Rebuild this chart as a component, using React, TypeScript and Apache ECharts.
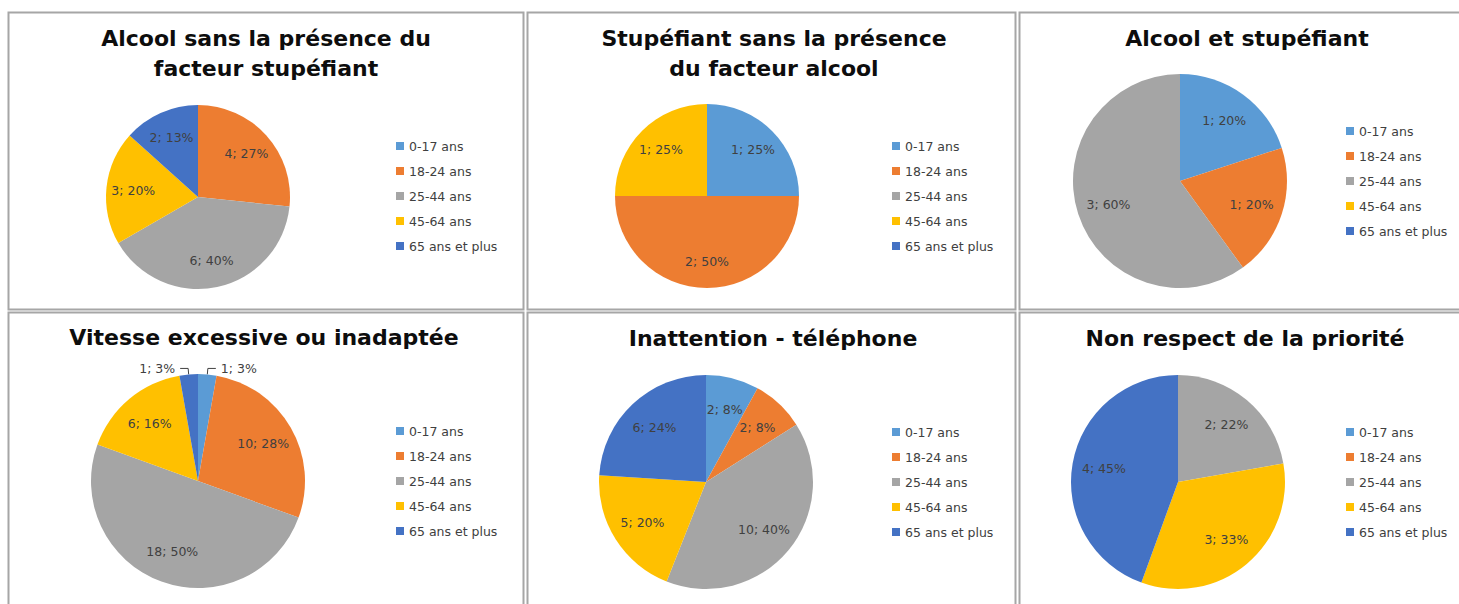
import React, { useEffect, useRef } from "react";
import * as echarts from "echarts";

const categories = ["0-17 ans", "18-24 ans", "25-44 ans", "45-64 ans", "65 ans et plus"];
const palette = ["#5B9BD5", "#ED7D31", "#A5A5A5", "#FFC000", "#4472C4"];

const titleAlcool = "Alcool sans la présence du\nfacteur stupéfiant";
const titleStup = "Stupéfiant sans la présence\ndu facteur alcool";
const titleAlcoolStup = "Alcool et stupéfiant";
const titleVitesse = "Vitesse excessive ou inadaptée";
const titleInattention = "Inattention - téléphone";
const titlePriorite = "Non respect de la priorité";

const alcoolSansStup = [0, 4, 6, 3, 2];
const stupSansAlcool = [1, 2, 0, 1, 0];
const alcoolEtStup = [1, 1, 3, 0, 0];
const vitesse = [1, 10, 18, 6, 1];
const inattention = [2, 2, 10, 5, 6];
const priorite = [0, 0, 2, 3, 4];

const panels = [
  { title: titleAlcool, values: alcoolSansStup, cx: 198, cy: 197, r: 92, tx: 266, ty: 23, lx: 396, ly: 139.5 },
  { title: titleStup, values: stupSansAlcool, cx: 707, cy: 196, r: 92, tx: 774, ty: 23, lx: 892, ly: 139.5 },
  { title: titleAlcoolStup, values: alcoolEtStup, cx: 1180, cy: 181, r: 107, tx: 1247, ty: 23, lx: 1346, ly: 124.5 },
  { title: titleVitesse, values: vitesse, cx: 198, cy: 481, r: 107, tx: 264, ty: 322, lx: 396, ly: 424.5 },
  { title: titleInattention, values: inattention, cx: 706, cy: 482, r: 107, tx: 773, ty: 323, lx: 892, ly: 425.5 },
  { title: titlePriorite, values: priorite, cx: 1178, cy: 482, r: 107, tx: 1245, ty: 323, lx: 1346, ly: 425.5 },
];

const borderBoxes = [
  [8, 12, 515, 297],
  [527, 12, 488, 297],
  [1019, 12, 460, 297],
  [8, 312, 515, 310],
  [527, 312, 488, 310],
  [1019, 312, 460, 310],
];

const TITLE_FONT = "'DejaVu Sans', Verdana, sans-serif";
const FONT = "'DejaVu Sans', Verdana, sans-serif";
const LABEL_COLOR = "#404040";
const LABEL_SIZE = 12.5;

export default function App() {
  const ref = useRef<HTMLDivElement>(null);
  useEffect(() => {
    if (!ref.current) return;
    const chart = echarts.init(ref.current, null, { renderer: "svg" });

    const mainSeries: any[] = [];
    const labelSeries: any[] = [];
    panels.forEach((p, pi) => {
      const total = p.values.reduce((a, b) => a + b, 0);
      mainSeries.push({
        type: "pie",
        name: "main" + pi,
        center: [p.cx, p.cy],
        radius: [0, p.r],
        startAngle: 90,
        clockwise: true,
        percentPrecision: 0,
        avoidLabelOverlap: true,
        emphasis: { disabled: true },
        itemStyle: { borderWidth: 0 },
        data: categories.map((c, i) => {
          const v = p.values[i];
          const small = v > 0 && v / total < 0.05;
          return {
            name: c,
            value: v,
            label: small
              ? { show: true, position: "outside", formatter: "{c}; {d}%", color: LABEL_COLOR, fontSize: LABEL_SIZE, fontFamily: FONT }
              : { show: false },
            labelLine: small
              ? { show: true, length: 6, length2: 8, lineStyle: { color: "#404040", width: 1 } }
              : { show: false },
          };
        }),
      });
      labelSeries.push({
        type: "pie",
        name: "labels" + pi,
        center: [p.cx, p.cy],
        radius: [p.r * 0.5, p.r * 0.85],
        startAngle: 90,
        clockwise: true,
        percentPrecision: 0,
        silent: true,
        avoidLabelOverlap: false,
        emphasis: { disabled: true },
        itemStyle: { color: "rgba(0,0,0,0)", borderWidth: 0 },
        labelLine: { show: false },
        data: categories.map((c, i) => {
          const v = p.values[i];
          const show = v > 0 && v / total >= 0.05;
          return {
            name: c,
            value: v,
            label: {
              show,
              position: "inside",
              formatter: "{c}; {d}%",
              color: LABEL_COLOR,
              fontSize: LABEL_SIZE,
              fontFamily: FONT,
            },
          };
        }),
      });
    });

    const option: any = {
      animation: false,
      color: palette,
      backgroundColor: "#ffffff",
      title: panels.map((p) => ({
        text: p.title,
        left: p.tx,
        top: p.ty,
        textAlign: "center",
        padding: 0,
        textStyle: {
          fontFamily: TITLE_FONT,
          fontWeight: "bold",
          fontSize: 22,
          lineHeight: 30,
          color: "#0d0d0d",
        },
      })),
      legend: panels.map((p) => ({
        data: categories,
        orient: "vertical",
        left: p.lx,
        top: p.ly,
        padding: 0,
        itemWidth: 8,
        itemHeight: 8,
        itemGap: 12,
        icon: "rect",
        selectedMode: false,
        textStyle: { fontSize: LABEL_SIZE, lineHeight: 13, color: LABEL_COLOR, fontFamily: FONT },
      })),
      graphic: borderBoxes.map((b) => ({
        type: "rect",
        silent: true,
        z: -10,
        shape: { x: b[0] + 0.5, y: b[1] + 0.5, width: b[2], height: b[3] },
        style: { fill: "none", stroke: "#a6a6a6", lineWidth: 2 },
      })),
      series: [...mainSeries, ...labelSeries],
    };
    chart.setOption(option);
    return () => chart.dispose();
  }, []);
  return (
    <div
      ref={ref}
      style={{ position: "absolute", left: 0, top: 0, width: 1459, height: 604, background: "#fff" }}
    />
  );
}
